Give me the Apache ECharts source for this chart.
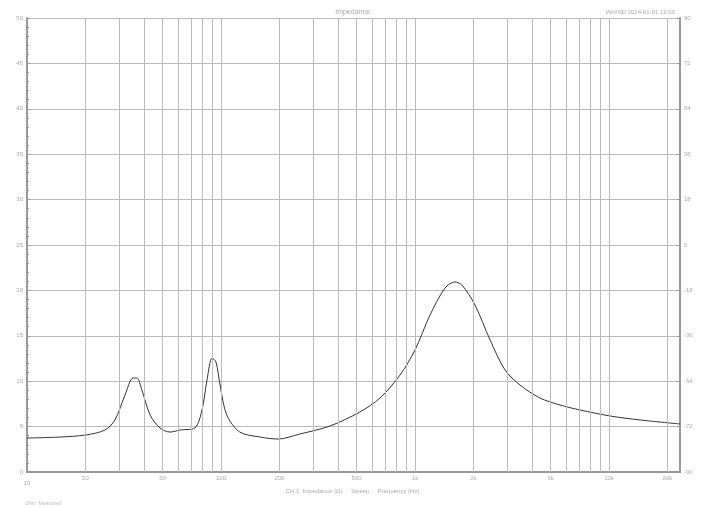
<!DOCTYPE html><html><head><meta charset="utf-8"><script src="https://cdn.jsdelivr.net/npm/echarts@6/dist/echarts.min.js"></script></head><body style="margin:0;background:#fff"><div id="c" style="width:705px;height:508px"></div><script>
const freqs=[10,14.8,20,25.2,28.4,32,35.2,36.9,39.1,43.1,48.5,54.6,61.5,73.4,79.8,84.7,89.9,94.2,98.9,107,125,159,197,255,365,520,660,837,1000,1195,1428,1607,1746,2038,2437,2911,3477,4407,5587,7093,10120,14450,23220];
const ohms=[3.74,3.85,4.07,4.62,5.73,8.48,10.35,10.35,9.03,6.28,4.85,4.40,4.62,4.85,6.83,10.13,12.56,12.11,9.58,6.28,4.40,3.85,3.63,4.18,5.07,6.61,8.15,10.68,13.44,17.29,20.26,20.93,20.59,18.39,14.54,11.23,9.58,8.15,7.38,6.83,6.17,5.73,5.29];
const gridFreqs=[20,30,40,50,60,70,80,90,100,200,300,400,500,600,700,800,900,1000,2000,3000,4000,5000,6000,7000,8000,9000,10000,20000];
const labeledFreqs=[20,50,100,200,500,1000,2000,5000,10000,20000];
const yTicks=[0,5,10,15,20,25,30,35,40,45,50];
const phaseTicks=[-90,-72,-54,-36,-18,0,18,36,54,72,90];
const lab=v=>v>=1000?(v/1000)+'k':String(v);
const c=echarts.init(document.getElementById('c'));
c.setOption({animation:false,
grid:{left:27,right:25,top:18,bottom:36},
title:[{text:'Impedance',left:'center',top:4,textStyle:{fontSize:7,color:'#aaa',fontWeight:'normal'}},
{text:'WinISD 2024-01-01 12:00',right:25,top:4,textStyle:{fontSize:6,color:'#aaa',fontWeight:'normal'}},
{text:'CH 1  Impedance (Ω)  ·  Sweep  ·  Frequency (Hz)',left:'center',top:483,textStyle:{fontSize:6,color:'#aaa',fontWeight:'normal'}},
{text:'Ohm  Measured',left:20,top:496,textStyle:{fontSize:5,color:'#bbb',fontWeight:'normal'}}],
xAxis:{type:'log',min:10,max:23220,axisLine:{lineStyle:{color:'#999',width:2}},axisTick:{show:false},splitLine:{show:true,lineStyle:{color:'#bbb'}},axisLabel:{fontSize:6,color:'#aaa',formatter:v=>v==10?'10':''}},
yAxis:[{type:'value',min:0,max:50,interval:5,axisLine:{show:true,lineStyle:{color:'#999',width:2}},axisTick:{show:true,inside:true,length:3},minorTick:{show:true,splitNumber:5,length:2},splitLine:{lineStyle:{color:'#bbb'}},axisLabel:{fontSize:6,color:'#aaa',margin:4}},
{type:'value',min:-90,max:90,interval:18,position:'right',axisLine:{show:true,lineStyle:{color:'#999',width:2}},axisTick:{show:true,inside:true,length:3},splitLine:{show:false},axisLabel:{fontSize:6,color:'#aaa',margin:4}}],
series:[{type:'line',data:freqs.map((f,i)=>[f,ohms[i]]),smooth:0.3,showSymbol:false,lineStyle:{color:'#333',width:1},
markLine:{silent:true,symbol:'none',lineStyle:{color:'#bbb',type:'solid',width:1},
label:{position:'start',fontSize:6,color:'#aaa',distance:3,formatter:p=>labeledFreqs.includes(p.value)?lab(p.value):''},
data:gridFreqs.map(f=>({xAxis:f}))}}]});
</script></body></html>
